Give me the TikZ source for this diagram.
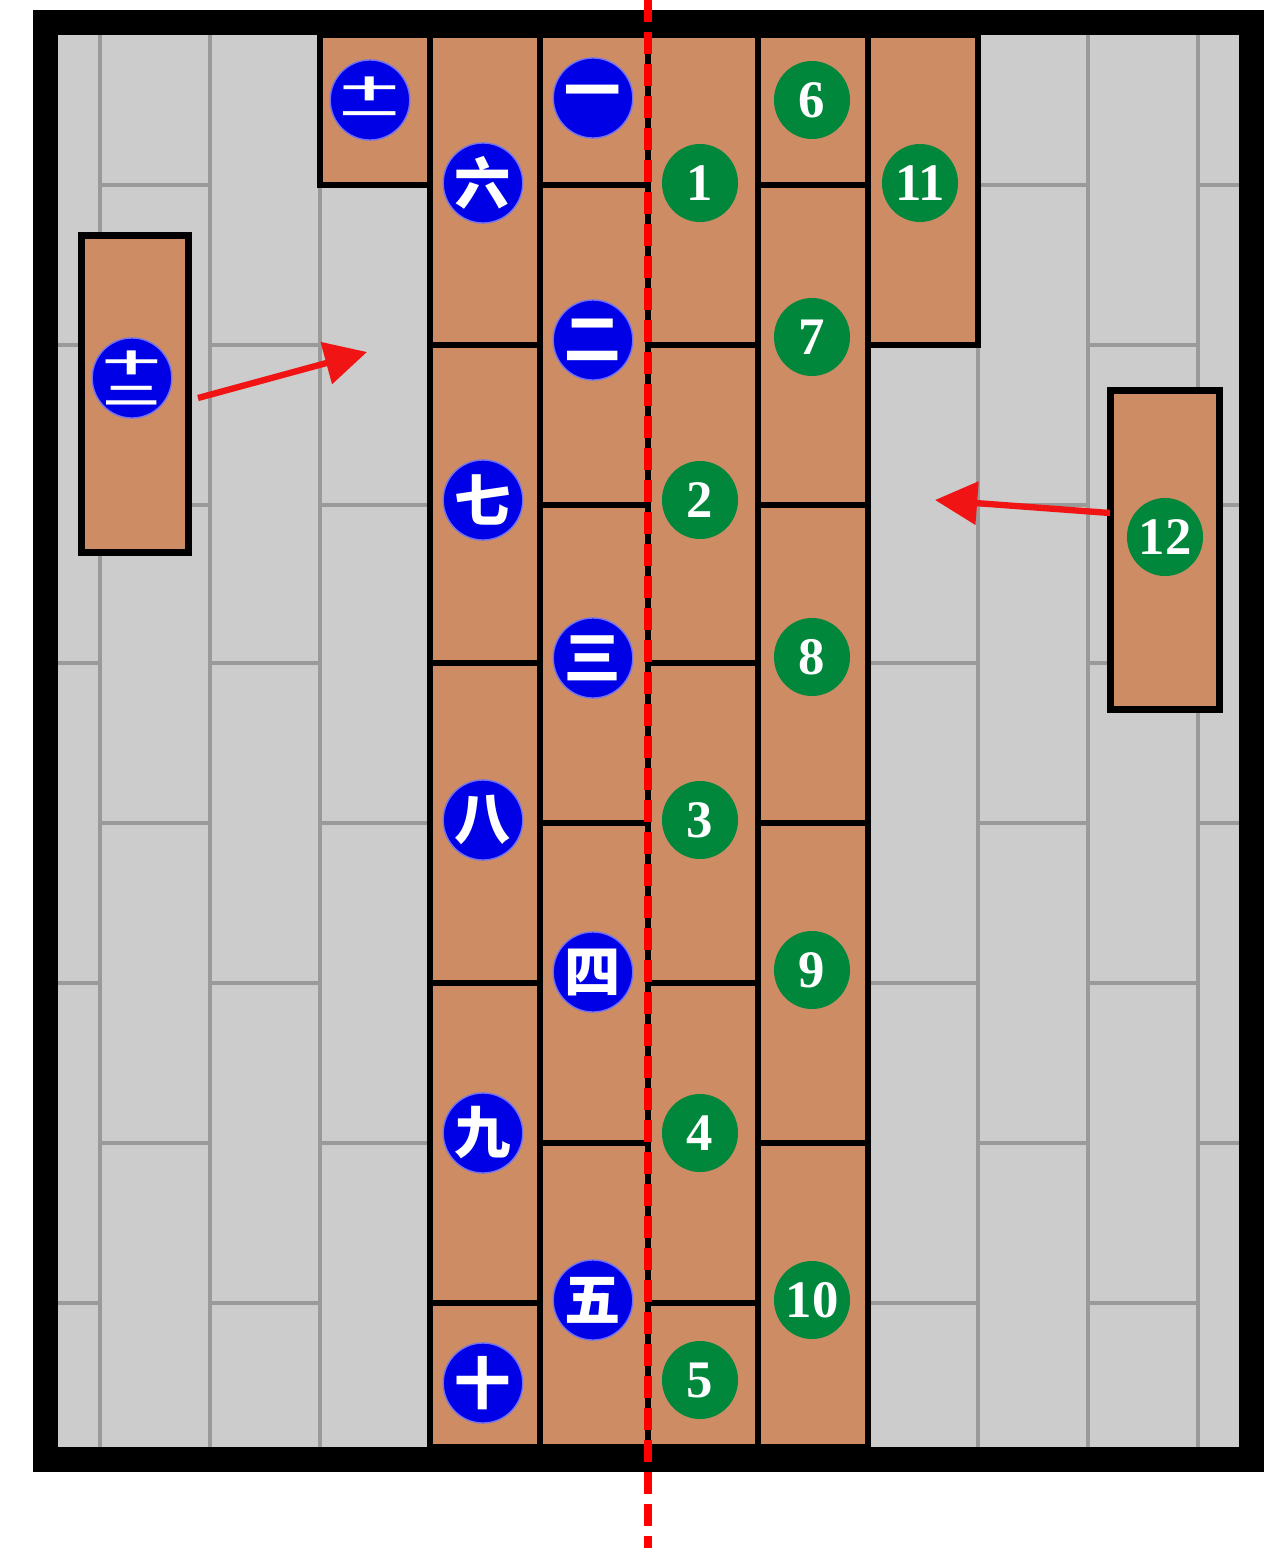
\documentclass[tikz,border=0pt]{standalone}
\usepackage{fontspec}
\setmainfont{Liberation Serif}
\newfontfamily\cjk{Noto Sans CJK SC}
\usetikzlibrary{arrows.meta,shapes.geometric}
\definecolor{tilegray}{HTML}{CCCCCC}
\definecolor{linegray}{HTML}{9A9A9A}
\definecolor{brick}{HTML}{CD8C64}
\definecolor{ballblue}{HTML}{0000E6}
\definecolor{ballgreen}{HTML}{00873C}
\definecolor{arrowred}{HTML}{F01414}
\begin{document}
\begin{tikzpicture}[x=0.01cm,y=-0.01cm,
  gridline/.style={draw=linegray,line width=1.1pt},
  brownbox/.style={fill=brick,draw=black,line width=1.5pt},
  loosetile/.style={rectangle,fill=brick,draw=black,line width=2pt,inner sep=0pt},
  ball/.style={ellipse,inner sep=0pt,text=white},
  blueball/.style={ball,fill=ballblue,draw=ballblue!55!white,line width=0.4pt,
    minimum width=0.78cm,minimum height=0.80cm,font=\cjk\bfseries\fontsize{16}{16}\selectfont},
  greenball/.style={ball,fill=ballgreen,minimum width=0.76cm,minimum height=0.78cm,
    font=\bfseries\fontsize{15}{15}\selectfont},
  redarrow/.style={draw=arrowred,line width=1.8pt,-{Triangle[length=12pt,width=12pt]}},
  centerline/.style={draw=red,line width=2.3pt,dash pattern=on 6.3pt off 2.8pt},
  frameline/.style={draw=black,line width=7.1pt}]
\useasboundingbox (0,0) rectangle (1272,1548);
\fill[white] (0,0) rectangle (1272,1548);
% gray floor
\fill[tilegray] (58,35) rectangle (1240,1447);
\foreach \x in {100,210,320,978,1088,1198}
  \draw[gridline] (\x,35) -- (\x,1447);
\foreach \a/\b in {58/100,210/320,868/978,1088/1198}
  \foreach \y in {345,663,983,1303}
    \draw[gridline] (\a,\y) -- (\b,\y);
\foreach \a/\b in {100/210,320/430,978/1088,1198/1240}
  \foreach \y in {185,505,823,1143}
    \draw[gridline] (\a,\y) -- (\b,\y);
% brown tiles
\foreach \a/\b in {430/540,648/758}
  \foreach \t/\u in {35/345,345/663,663/983,983/1303,1303/1447}
    \draw[brownbox] (\a,\t) rectangle (\b,\u);
\foreach \a/\b in {540/648,758/868}
  \foreach \t/\u in {35/185,185/505,505/823,823/1143,1143/1447}
    \draw[brownbox] (\a,\t) rectangle (\b,\u);
\draw[brownbox] (868,35) rectangle (978,345);
\draw[brownbox] (320,35) rectangle (430,185);
% loose tiles
\node[loosetile,minimum width=1.06cm,minimum height=3.16cm] (ltile) at (135,394) {};
\node[loosetile,minimum width=1.08cm,minimum height=3.18cm] (rtile) at (1165,550) {};
% frame
\draw[frameline] (45.5,22.5) rectangle (1251.5,1459.5);
% blue balls
\node[blueball] (b1) at (593,98) {一};
\node[blueball] (b2) at (593,340) {二};
\node[blueball] (b3) at (593,658) {三};
\node[blueball] (b4) at (593,972) {四};
\node[blueball] (b5) at (593,1300) {五};
\node[blueball] (b6) at (483,183) {六};
\node[blueball] (b7) at (483,500) {七};
\node[blueball] (b8) at (483,820) {八};
\node[blueball] (b9) at (483,1133) {九};
\node[blueball] (b10) at (483,1383) {十};
\node[blueball] (b11) at (370,100) {\scalebox{1}[0.45]{\shortstack{十\\[4pt]一}}};
\node[blueball] (b12) at (132,378) {\scalebox{1}[0.45]{\shortstack{十\\[4pt]二}}};
% green balls
\node[greenball] (g1) at (700,183) {1};
\node[greenball] (g2) at (700,500) {2};
\node[greenball] (g3) at (700,820) {3};
\node[greenball] (g4) at (700,1133) {4};
\node[greenball] (g5) at (700,1380) {5};
\node[greenball] (g6) at (812,100) {6};
\node[greenball] (g7) at (812,337) {7};
\node[greenball] (g8) at (812,657) {8};
\node[greenball] (g9) at (812,970) {9};
\node[greenball] (g10) at (812,1300) {10};
\node[greenball] (g11) at (920,183) {11};
\node[greenball] (g12) at (1165,537) {12};
% arrows
\coordinate (lstart) at (198,398);
\coordinate (ltip) at (367,352);
\coordinate (rstart) at (1110,513);
\coordinate (rtip) at (935,500);
\draw[redarrow] (lstart) -- (ltip);
\draw[redarrow] (rstart) -- (rtip);
% center line
\coordinate (ctop) at (648,0);
\coordinate (cbot) at (648,1548);
\draw[centerline] (ctop) -- (cbot);
\end{tikzpicture}
\end{document}
